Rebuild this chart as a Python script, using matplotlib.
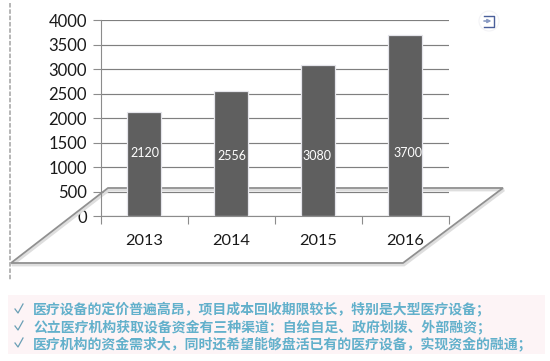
import matplotlib
matplotlib.use("Agg")
import matplotlib.pyplot as plt
from matplotlib.patches import Polygon, Rectangle, Circle
from matplotlib.transforms import Affine2D

years = ["2013", "2014", "2015", "2016"]
values = [2120, 2556, 3080, 3700]
yticks = [0, 500, 1000, 1500, 2000, 2500, 3000, 3500, 4000]
notes = [
    "医疗设备的定价普遍高昂，项目成本回收期限较长，特别是大型医疗设备；",
    "公立医疗机构获取设备资金有三种渠道：自给自足、政府划拨、外部融资；",
    "医疗机构的资金需求大，同时还希望能够盘活已有的医疗设备，实现资金的融通；",
]

W, H = 550, 361
fig = plt.figure(figsize=(W / 100, H / 100), dpi=100, facecolor="white")
pix = Affine2D().scale(1 / W, -1 / H).translate(0, 1) + fig.transFigure

ax = fig.add_axes([101 / W, (H - 216.3) / H, 347.5 / W, 196 / H])
ax.set_facecolor("none")
ax.set_xlim(0, 4)
ax.set_ylim(0, 4000)
for s in ["top", "right"]:
    ax.spines[s].set_visible(False)
for s in ["left", "bottom"]:
    ax.spines[s].set_color("#8c8c8c")
    ax.spines[s].set_linewidth(0.8)
ax.set_axisbelow(True)
ax.set_yticks(yticks)
ax.grid(axis="y", color="#7f7f7f", lw=0.85)
ax.set_xticks(range(5))
ax.set_xticklabels([])
ax.tick_params(axis="both", color="#8c8c8c", length=6, width=0.8)
ax.tick_params(axis="y", labelsize=12, labelcolor="#1a1a1a", pad=4)
for t in ax.get_yticklabels():
    t.set_family("Lato")

# dashed selection edge at left
ax.plot([10, 10], [3, 280], transform=pix, clip_on=False, color="#b0b0b0",
        lw=1.3, ls=(0, (2.5, 1)), zorder=0.6)

# parallelogram with soft shadow
corners = [(108, 188), (503, 188), (403, 263), (11, 263)]
shadow = [(x + 1, y + 2) for x, y in corners]
ax.add_patch(Polygon(shadow, closed=True, fill=False, ec="#dedede", lw=2.0,
                     transform=pix, clip_on=False, zorder=0.9))
ax.add_patch(Polygon(corners, closed=True, fill=False, ec="#909090", lw=1.3,
                     transform=pix, clip_on=False, zorder=1))

# bars
xpos = [i + 0.5 for i in range(len(values))]
ax.bar(xpos, values, width=0.39, color="#5f5f5f", edgecolor="#e4e4ea", lw=0.9, zorder=3)

# category labels
for x, y in zip(xpos, years):
    ax.annotate(y, (x, 0), xytext=(0, -24.5 * 0.72), textcoords="offset points",
                ha="center", va="center", fontsize=11.8, family="Lato", color="#1a1a1a")

# data labels
label_x = [145, 231.5, 317, 408]
label_y = [153, 155.7, 155.7, 152.7]
for lx, ly, v in zip(label_x, label_y, values):
    ax.text(lx, ly, str(v), transform=pix, ha="center", va="center", fontsize=9,
            family="Lato", color="white", zorder=4, clip_on=False)

# small icon
ax.add_patch(Circle((489, 21), 10, transform=pix, fc="white", ec="#f3f3f6", lw=0.8,
                    clip_on=False, zorder=2))
ax.plot([484, 493.5, 493.5, 484], [15.5, 15.5, 26.5, 26.5], transform=pix, color="#4a5f9a",
        lw=1.0, clip_on=False, zorder=3)
ax.annotate("", xy=(491.5, 21), xytext=(484, 21), xycoords=pix, textcoords=pix,
            arrowprops=dict(arrowstyle="-|>", color="#8b9cc4", lw=1.2, mutation_scale=5,
                            shrinkA=0, shrinkB=0), zorder=3)

# note box
ax.add_patch(Rectangle((8, 295), 537, 59, transform=pix, fc="#fdf4f6", ec="none",
                       clip_on=False, zorder=0.2))
note_y = [310, 327, 344]
for ny, line in zip(note_y, notes):
    ax.text(33, ny, line, transform=pix, ha="left", va="center", fontsize=10,
            family=["Noto Sans CJK SC", "DejaVu Sans"], weight="bold", color="#62b0cb", clip_on=False)
    ax.plot([15, 18, 23], [ny - 1, ny + 3, ny - 6], transform=pix, color="#6a9fb5", lw=0.9,
            clip_on=False)

fig.savefig("out.png", dpi=100, facecolor="white")
